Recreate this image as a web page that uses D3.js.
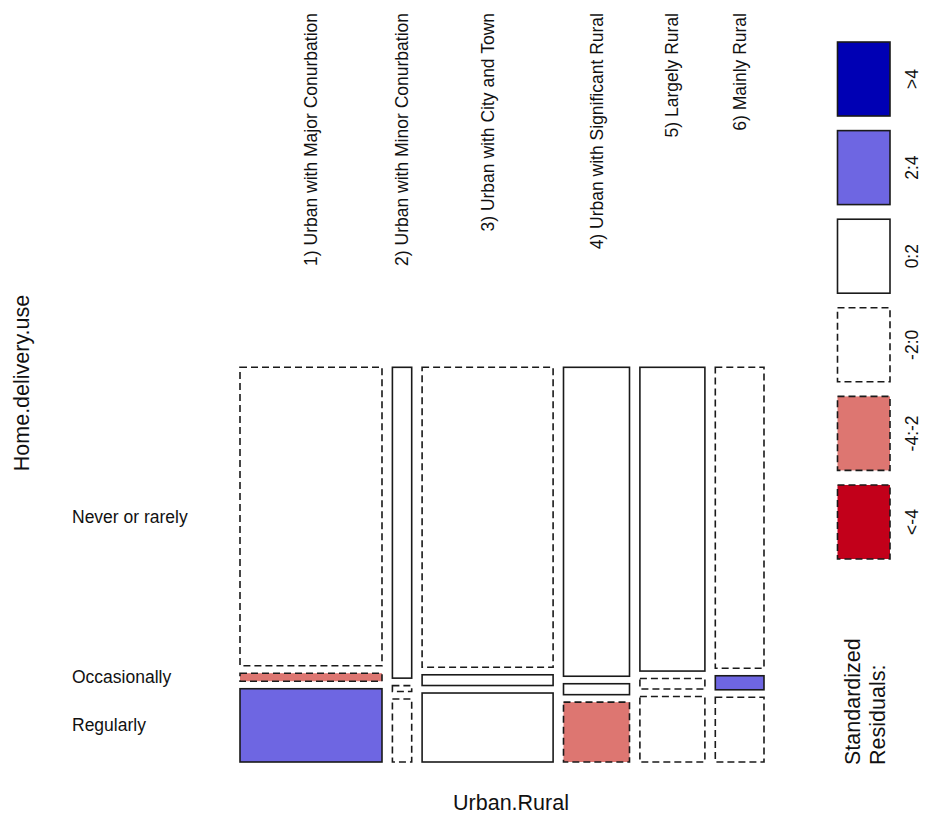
<!DOCTYPE html>
<html>
<head>
<meta charset="utf-8">
<script src="https://cdn.jsdelivr.net/npm/d3@7"></script>
<style>
  html, body { margin: 0; padding: 0; background: #fff; }
  svg { display: block; font-family: "Liberation Sans", Arial, sans-serif; }
</style>
</head>
<body>
<svg id="chart" width="925" height="819"></svg>
<script>
// Urban/rural classification (columns) and home delivery frequency (rows)
const regions = [
  "1) Urban with Major Conurbation",
  "2) Urban with Minor Conurbation",
  "3) Urban with City and Town",
  "4) Urban with Significant Rural",
  "5) Largely Rural",
  "6) Mainly Rural"
];
const usageLevels = ["Never or rarely", "Occasionally", "Regularly"];

// Respondent counts per region, one array per delivery level
const neverOrRarely = [1116, 158, 1035, 537, 520, 386];
const occasionally  = [30, 3, 37, 19, 18, 18];
const regularly     = [274, 32, 238, 104, 112, 83];

// Standardized residuals per cell (same order as the count arrays)
const residNever  = [-1.2, 0.9, -0.5, 1.2, 0.3, -0.2];
const residOccas  = [-2.4, -0.6, 0.5, 0.6, -0.1, 2.3];
const residReg    = [2.6, -0.6, 0.4, -2.3, -0.1, -0.2];

// Residual shading classes, from most positive to most negative
const legendLabels = [">4", "2:4", "0:2", "-2:0", "-4:-2", "<-4"];
const legendColors = ["#0000b4", "#6e66e2", "#ffffff", "#ffffff", "#dd7671", "#c2001a"];
const residBreaks  = [4, 2, 0, -2, -4];

const svg = d3.select("#chart");
const countsByLevel = [neverOrRarely, occasionally, regularly];
const residByLevel  = [residNever, residOccas, residReg];

// Plot frame
const plot = { left: 240, right: 764, top: 367.3, bottom: 762 };
const colGap = 10.4, rowGap = 7.5;

const colTotals = regions.map((_, i) => d3.sum(countsByLevel, arr => arr[i]));
const grand = d3.sum(colTotals);
const cumCols = d3.cumsum([0, ...colTotals]);

const xScale = d3.scaleLinear()
  .domain([0, grand])
  .range([plot.left, plot.right - colGap * (regions.length - 1)]);
const yScale = d3.scaleLinear()
  .domain([0, 1])
  .range([plot.top, plot.bottom - rowGap * (usageLevels.length - 1)]);

function residClass(r) {
  for (let k = 0; k < residBreaks.length; k++) {
    if (r > residBreaks[k]) return k;
  }
  return residBreaks.length;
}

const cells = [];
regions.forEach((reg, i) => {
  const x0 = xScale(cumCols[i]) + colGap * i;
  const x1 = xScale(cumCols[i + 1]) + colGap * i;
  let cum = 0;
  usageLevels.forEach((lev, j) => {
    const p = countsByLevel[j][i] / colTotals[i];
    const y0 = yScale(cum) + rowGap * j;
    const y1 = yScale(cum + p) + rowGap * j;
    cum += p;
    cells.push({ i, j, x0, x1, y0, y1, r: residByLevel[j][i] });
  });
});

svg.append("g").selectAll("rect")
  .data(cells)
  .join("rect")
  .attr("x", d => d.x0)
  .attr("y", d => d.y0)
  .attr("width", d => d.x1 - d.x0)
  .attr("height", d => d.y1 - d.y0)
  .attr("fill", d => legendColors[residClass(d.r)])
  .attr("stroke", "#1a1a1a")
  .attr("stroke-width", 1.6)
  .attr("stroke-dasharray", d => d.r < 0 ? "7,4" : null);

// Region labels across the top, rotated
svg.append("g").selectAll("text")
  .data(regions)
  .join("text")
  .attr("transform", (d, i) => {
    const cx = (xScale(cumCols[i]) + xScale(cumCols[i + 1])) / 2 + colGap * i;
    return `translate(${cx},13) rotate(-90)`;
  })
  .attr("text-anchor", "end")
  .attr("dominant-baseline", "central")
  .attr("font-size", 17.5)
  .attr("fill", "#111")
  .text(d => d);

// Delivery level labels at the left, centred on the first column's cells
const firstCol = cells.filter(c => c.i === 0);
svg.append("g").selectAll("text")
  .data(firstCol)
  .join("text")
  .attr("x", 72)
  .attr("y", d => (d.y0 + d.y1) / 2)
  .attr("dominant-baseline", "central")
  .attr("font-size", 17.5)
  .attr("fill", "#111")
  .text(d => usageLevels[d.j]);

// Axis titles
svg.append("text")
  .attr("transform", "translate(22,383) rotate(-90)")
  .attr("text-anchor", "middle")
  .attr("dominant-baseline", "central")
  .attr("font-size", 21.5)
  .attr("fill", "#111")
  .text("Home.delivery.use");

svg.append("text")
  .attr("x", 511)
  .attr("y", 803)
  .attr("text-anchor", "middle")
  .attr("dominant-baseline", "central")
  .attr("font-size", 21.5)
  .attr("fill", "#111")
  .text("Urban.Rural");

// Legend of residual classes
const legendY = d3.scaleBand()
  .domain(legendLabels)
  .range([27.4, 573.6])
  .padding(0.165);

const legend = svg.append("g");
legend.selectAll("rect")
  .data(legendLabels)
  .join("rect")
  .attr("x", 837.5)
  .attr("y", d => legendY(d))
  .attr("width", 52.5)
  .attr("height", legendY.bandwidth())
  .attr("fill", (d, k) => legendColors[k])
  .attr("stroke", "#1a1a1a")
  .attr("stroke-width", 1.6)
  .attr("stroke-dasharray", (d, k) => k >= 3 ? "7,4" : null);

legend.selectAll("text")
  .data(legendLabels)
  .join("text")
  .attr("transform", d => `translate(912,${legendY(d) + legendY.bandwidth() / 2}) rotate(-90)`)
  .attr("text-anchor", "middle")
  .attr("dominant-baseline", "central")
  .attr("font-size", 17.5)
  .attr("fill", "#111")
  .text(d => d);

const legendTitle = ["Standardized", "Residuals:"];
legend.selectAll("text.title")
  .data(legendTitle)
  .join("text")
  .attr("class", "title")
  .attr("transform", (d, k) => `translate(${853 + k * 25},765) rotate(-90)`)
  .attr("text-anchor", "start")
  .attr("dominant-baseline", "central")
  .attr("font-size", 21.5)
  .attr("fill", "#111")
  .text(d => d);
</script>
</body>
</html>
